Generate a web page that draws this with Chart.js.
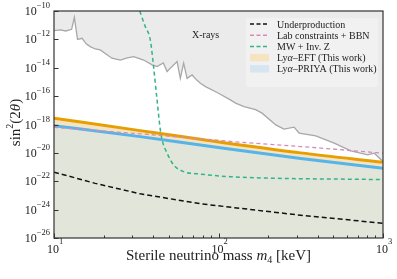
<!DOCTYPE html>
<html>
<head>
<meta charset="utf-8">
<script src="https://cdn.jsdelivr.net/npm/chart.js@4/dist/chart.umd.min.js"></script>
<style>
  html, body { margin: 0; padding: 0; background: #fff; }
  canvas { display: block; }
</style>
</head>
<body>
<canvas id="chart" width="397" height="279"></canvas>
<script>
// ===================== data ===================== //
const xrayMass  = [10, 10.9, 11.8, 12.8, 13.3, 13.9, 14.8, 15.7, 16.6, 17.8, 19.1, 20.7, 22.5, 25.3, 27.9, 30.5, 35.1, 39.5, 42.3, 46.2, 48.7, 51.7, 56, 58.6, 61.4, 64.4, 69.1, 73.5, 77.6, 83.4, 100, 118, 127, 143, 168, 184, 223, 250, 288, 309, 390, 505, 638, 807, 885, 1000];
const xrayLimit = [4.1e-12, 4.6e-12, 3.9e-12, 5.1e-12, 3.6e-11, 1.0e-12, 1.2e-12, 4.8e-13, 3.1e-13, 2.1e-13, 1.8e-13, 9.3e-14, 4.7e-14, 3.5e-14, 4.9e-14, 6.0e-14, 3.5e-14, 1.6e-14, 1.2e-14, 2.2e-14, 5.4e-15, 1.1e-14, 2.7e-14, 1.8e-15, 2.1e-14, 1.8e-15, 3.1e-15, 1.4e-15, 8.1e-16, 4.7e-16, 1.6e-16, 5.4e-17, 3.2e-17, 1.8e-17, 1.1e-17, 6.3e-18, 9.3e-19, 4.7e-19, 6.5e-19, 2.5e-19, 1.6e-19, 4.8e-20, 1.4e-20, 7.2e-21, 9.5e-21, 2.5e-21];

const underMass  = [10, 17.8, 33.4, 77.6, 316, 1000];
const underLimit = [4.4e-22, 7.1e-23, 1.3e-23, 2.6e-24, 4.0e-25, 1.1e-25];

const labMass  = [10, 33.4, 77.6, 143, 316, 1000];
const labLimit = [6.3e-19, 2.2e-19, 9.8e-20, 5.4e-20, 2.8e-20, 9.5e-21];

const mwMass  = [33.2, 35.9, 38.5, 40.3, 42.3, 44.3, 45.4, 48.7, 53.4, 61.4, 77.6, 118, 1000];
const mwLimit = [1.0e-10, 7.9e-12, 9.1e-13, 1.2e-14, 5.4e-17, 4.2e-19, 8.3e-20, 9.5e-21, 1.4e-21, 4.8e-22, 3.2e-22, 2.1e-22, 1.3e-22];

const lyaMass   = [10, 33.4, 77.6, 316, 1000];
const eftLimit  = [2.75e-18, 3.7e-19, 9.1e-20, 1.0e-20, 2.2e-21];
const priyaLimit = [8.3e-19, 1.4e-19, 3.6e-20, 4.0e-21, 8.3e-22];

const xMajorTicks = [10, 100, 1000];
const xMinorTicks = [20, 30, 40, 50, 60, 70, 80, 90, 200, 300, 400, 500, 600, 700, 800, 900];
const yTicks = [1e-26, 1e-24, 1e-22, 1e-20, 1e-18, 1e-16, 1e-14, 1e-12, 1e-10];

const legendItems = [
    { label: [['Underproduction']], color: '#111111', kind: 'dash' },
    { label: [['Lab constraints + BBN']], color: '#d58bb8', kind: 'dash' },
    { label: [['MW + Inv. Z']], color: '#34b38a', kind: 'dash' },
    { label: [['Ly'], ['α', 'italic'], ['–EFT (This work)']], color: '#f6e3c2', kind: 'patch' },
    { label: [['Ly'], ['α', 'italic'], ['–PRIYA (This work)']], color: '#d6e6f1', kind: 'patch' }
];

const pts = (xs, ys) => xs.map((m, i) => ({ x: m, y: ys[i] }));

const SERIF = '"Liberation Serif", "DejaVu Serif", serif';

// draw text made of several runs (font / vertical shift)
function runs(ctx, parts, x, y, align) {
    let w = 0;
    parts.forEach(p => { ctx.font = p.font; p.w = ctx.measureText(p.t).width; w += p.w; });
    let cx = align === 'center' ? x - w / 2 : align === 'right' ? x - w : x;
    parts.forEach(p => {
        ctx.font = p.font;
        ctx.fillText(p.t, cx, y + (p.dy || 0));
        cx += p.w;
    });
}

// ===================== axes, labels, legend ===================== //
const decor = {
    id: 'decor',
    afterDraw(chart) {
        const { ctx, chartArea: a, scales: { x, y } } = chart;
        ctx.save();
        ctx.textAlign = 'left';
        ctx.textBaseline = 'alphabetic';
        ctx.fillStyle = '#222';

        // X-rays label
        ctx.font = '10px ' + SERIF;
        ctx.fillText('X-rays', 192, 38);

        // frame
        ctx.strokeStyle = '#333';
        ctx.lineWidth = 1.2;
        ctx.strokeRect(a.left, a.top, a.right - a.left, a.bottom - a.top);

        // ticks (inward)
        ctx.lineWidth = 1;
        ctx.beginPath();
        xMajorTicks.forEach(v => {
            const px = Math.round(x.getPixelForValue(v)) + 0.5;
            ctx.moveTo(px, a.bottom); ctx.lineTo(px, a.bottom - 4.5);
        });
        xMinorTicks.forEach(v => {
            const px = Math.round(x.getPixelForValue(v)) + 0.5;
            ctx.moveTo(px, a.bottom); ctx.lineTo(px, a.bottom - 2.5);
        });
        yTicks.forEach(v => {
            const py = Math.round(y.getPixelForValue(v)) + 0.5;
            ctx.moveTo(a.left, py); ctx.lineTo(a.left + 4.5, py);
        });
        ctx.stroke();

        // tick labels
        const big = '12px ' + SERIF, sup = '8.5px ' + SERIF;
        xMajorTicks.forEach(v => {
            const e = Math.round(Math.log10(v));
            runs(ctx, [{ t: '10', font: big }, { t: String(e), font: sup, dy: -9 }],
                x.getPixelForValue(v) + 1, a.bottom + 15, 'center');
        });
        yTicks.forEach(v => {
            const e = Math.round(Math.log10(v));
            runs(ctx, [{ t: '10', font: big }, { t: '\u2212' + Math.abs(e), font: sup, dy: -7 }],
                a.left - 4, y.getPixelForValue(v) + 4, 'right');
        });

        // x title
        const f15 = '15px ' + SERIF;
        runs(ctx, [
            { t: 'Sterile neutrino mass ', font: f15 },
            { t: 'm', font: 'italic ' + f15 },
            { t: '4', font: '10px ' + SERIF, dy: 3 },
            { t: ' [keV]', font: f15 }
        ], (a.left + a.right) / 2, 260, 'center');

        // y title
        ctx.save();
        ctx.translate(20, (a.top + a.bottom) / 2 - 2);
        ctx.rotate(-Math.PI / 2);
        runs(ctx, [
            { t: 'sin', font: f15 },
            { t: '2', font: '10px ' + SERIF, dy: -7 },
            { t: '(2', font: f15 },
            { t: 'θ', font: 'italic ' + f15 },
            { t: ')', font: f15 }
        ], 0, 0, 'center');
        ctx.restore();

        // legend
        ctx.fillStyle = '#f1f1f1';
        ctx.beginPath();
        ctx.roundRect(246, 18, 132, 69, 2);
        ctx.fill();
        legendItems.forEach((it, i) => {
            const cy = 24 + i * 11.2;
            if (it.kind === 'dash') {
                ctx.strokeStyle = it.color;
                ctx.lineWidth = 1.5;
                ctx.setLineDash([4, 2.5]);
                ctx.beginPath();
                ctx.moveTo(250, cy); ctx.lineTo(268, cy);
                ctx.stroke();
                ctx.setLineDash([]);
            } else {
                ctx.fillStyle = it.color;
                ctx.fillRect(250, cy - 3.7, 19, 7.4);
            }
            ctx.fillStyle = '#222';
            runs(ctx, it.label.map(([t, st]) => ({ t, font: (st ? st + ' ' : '') + '10px ' + SERIF })),
                277, cy + 3.5, 'left');
        });
        ctx.restore();
    }
};

const base = { pointRadius: 0, tension: 0, borderCapStyle: 'butt' };

new Chart(document.getElementById('chart'), {
    type: 'line',
    data: {
        datasets: [
            { ...base, label: 'Underproduction', data: pts(underMass, underLimit),
              borderColor: '#111111', borderWidth: 1.5, borderDash: [5, 3], fill: false, order: 0 },
            { ...base, label: 'Lab constraints + BBN', data: pts(labMass, labLimit),
              borderColor: '#d58bb8', borderWidth: 1.3, borderDash: [4, 3], fill: false, order: 0,
              cubicInterpolationMode: 'monotone' },
            { ...base, label: 'MW + Inv. Z', data: pts(mwMass, mwLimit),
              borderColor: '#34b38a', borderWidth: 1.5, borderDash: [4, 3], fill: false, order: 0,
              cubicInterpolationMode: 'monotone' },
            { ...base, label: 'Lyα–EFT (This work)', data: pts(lyaMass, eftLimit),
              borderColor: '#E69F00', borderWidth: 3, fill: { target: 4 },
              backgroundColor: '#f6e3c2', order: 1, cubicInterpolationMode: 'monotone' },
            { ...base, label: 'Lyα–PRIYA (This work)', data: pts(lyaMass, priyaLimit),
              borderColor: '#56B4E9', borderWidth: 3, fill: 'start',
              backgroundColor: '#e2e6da', order: 2, cubicInterpolationMode: 'monotone' },
            { ...base, label: 'X-rays', data: pts(xrayMass, xrayLimit),
              borderColor: '#a8a8a8', borderWidth: 1.3, fill: 'end',
              backgroundColor: '#ebebeb', order: 3 }
        ]
    },
    options: {
        responsive: false,
        animation: false,
        devicePixelRatio: 1,
        layout: { padding: { left: 54, right: 14, top: 11, bottom: 41 } },
        scales: {
            x: { type: 'logarithmic', min: 10, max: 1000, display: false },
            y: { type: 'logarithmic', min: 1e-26, max: 1e-10, display: false }
        },
        plugins: {
            legend: { display: false },
            tooltip: { enabled: false },
            filler: { drawTime: 'beforeDatasetsDraw' }
        }
    },
    plugins: [decor]
});
</script>
</body>
</html>
